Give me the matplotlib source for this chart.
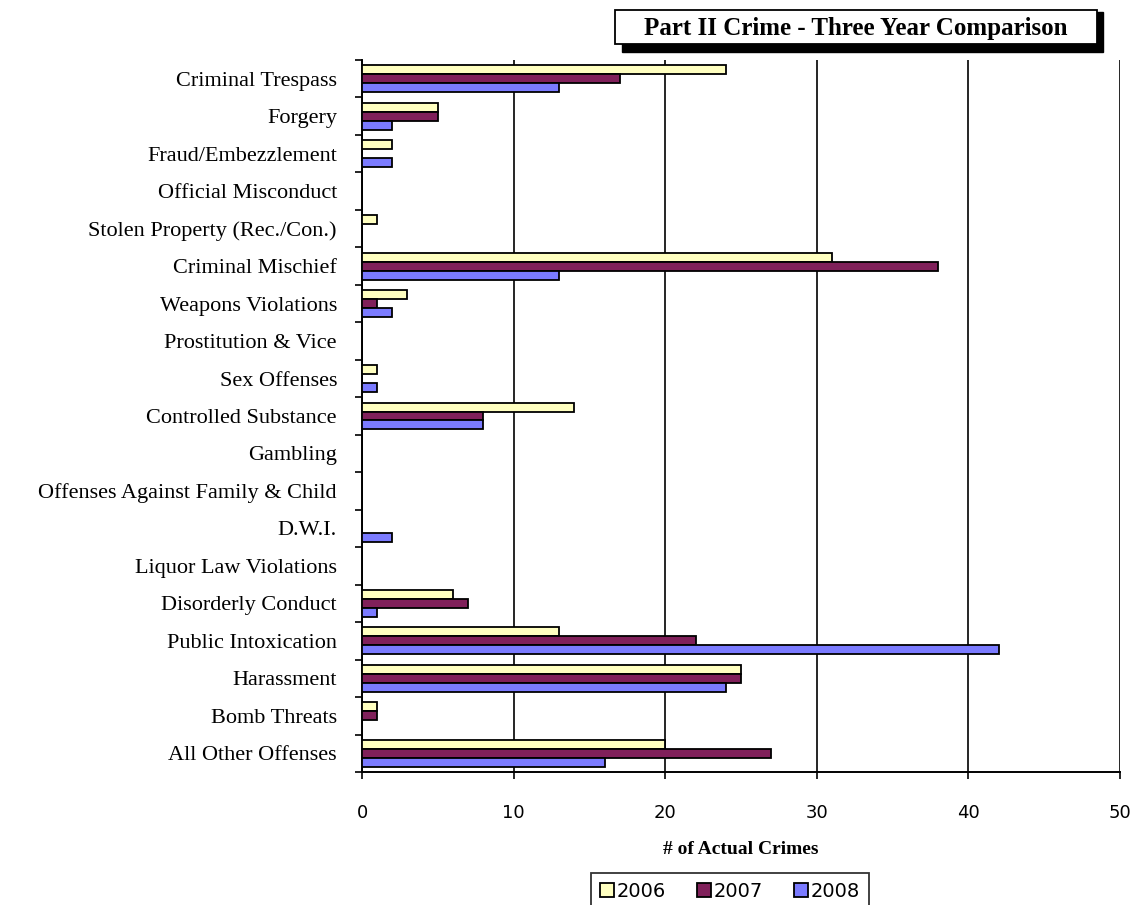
import matplotlib
matplotlib.use("Agg")
import matplotlib.pyplot as plt
import numpy as np
from matplotlib.patches import Rectangle

categories = ["Criminal Trespass", "Forgery", "Fraud/Embezzlement", "Official Misconduct",
              "Stolen Property (Rec./Con.)", "Criminal Mischief", "Weapons Violations",
              "Prostitution & Vice", "Sex Offenses", "Controlled Substance", "Gambling",
              "Offenses Against Family & Child", "D.W.I.", "Liquor Law Violations",
              "Disorderly Conduct", "Public Intoxication", "Harassment", "Bomb Threats",
              "All Other Offenses"]
y2006 = [24, 5, 2, 0, 1, 31, 3, 0, 1, 14, 0, 0, 0, 0, 6, 13, 25, 1, 20]
y2007 = [17, 5, 0, 0, 0, 38, 1, 0, 0, 8, 0, 0, 0, 0, 7, 22, 25, 1, 27]
y2008 = [13, 2, 2, 0, 0, 13, 2, 0, 1, 8, 0, 0, 2, 0, 1, 42, 24, 0, 16]
years = ["2006", "2007", "2008"]
xticks = [0, 10, 20, 30, 40, 50]

colors = ["#FFFFC0", "#80205A", "#7B7BFF"]

fig = plt.figure(figsize=(11.33, 9.05), dpi=100)
W, H = 1133, 905
ax = fig.add_axes([362 / W, 1 - 772 / H, 758 / W, 712 / H])

n = len(categories)
y = np.arange(n)
h = 0.24
for i, (vals, col, lab) in enumerate(zip([y2006, y2007, y2008], colors, years)):
    ax.barh(y + (i - 1) * h, vals, height=h, color=col, edgecolor="black",
            linewidth=1.3, label=lab, zorder=3)

ax.set_ylim(n - 0.5, -0.5)
ax.set_xlim(0, 50)
ax.set_xticks(xticks)
ax.set_xticklabels([str(t) for t in xticks], family="DejaVu Sans", fontsize=13)
ax.set_yticks(np.arange(n + 1) - 0.5, minor=False)
ax.set_yticklabels([])
ax.set_yticks(y, minor=True)
ax.set_yticklabels(categories, minor=True, family="Liberation Serif", fontsize=16)
ax.tick_params(axis="y", which="minor", length=0, pad=18)
ax.tick_params(axis="y", which="major", length=5, width=1.2, direction="out")
ax.tick_params(axis="x", length=5, width=1.2, pad=18)
ax.grid(axis="x", color="black", linewidth=1.2, zorder=0)
for s in ["top", "right"]:
    ax.spines[s].set_visible(False)
for s in ["left", "bottom"]:
    ax.spines[s].set_linewidth(1.4)
ax.set_xlabel("# of Actual Crimes", family="Liberation Serif", fontweight="bold",
              fontsize=14, labelpad=14)

# title box with shadow
fig.patches.append(Rectangle((622 / W, 1 - 52 / H), (1103 - 622) / W, (52 - 12) / H,
                             transform=fig.transFigure, facecolor="black",
                             edgecolor="black", zorder=1))
fig.patches.append(Rectangle((615 / W, 1 - 44 / H), (1097 - 615) / W, (44 - 10) / H,
                             transform=fig.transFigure, facecolor="white",
                             edgecolor="black", linewidth=1.3, zorder=2))
fig.text(856 / W, 1 - 28 / H, "Part II Crime - Three Year Comparison",
         family="Liberation Serif", fontweight="bold", fontsize=18,
         ha="center", va="center", zorder=3)

leg = fig.legend(loc="upper center", bbox_to_anchor=(730 / W, 1 - 873 / H), ncol=3,
                 frameon=True, fancybox=False, edgecolor="black",
                 prop={"family": "DejaVu Sans", "size": 14},
                 handlelength=0.7, handleheight=0.7, handletextpad=0.15,
                 columnspacing=1.6, borderpad=0.45, borderaxespad=0)
leg.get_frame().set_linewidth(1.3)

fig.savefig("out.png", dpi=100)
